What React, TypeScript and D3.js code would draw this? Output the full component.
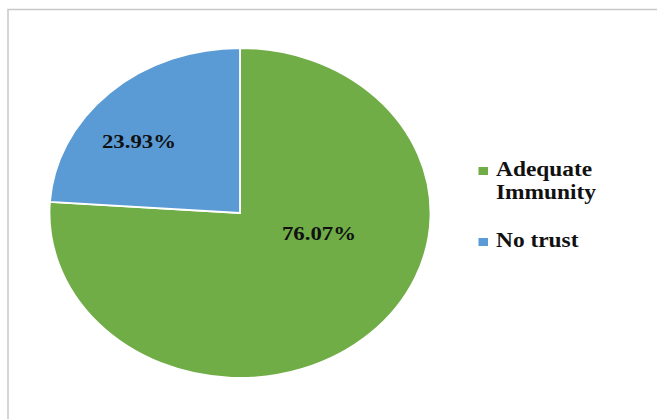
import React from "react";
import * as d3 from "d3";

const categories = ["Adequate Immunity", "No trust"];
const values = [76.07, 23.93];
const labels = ["76.07%", "23.93%"];
const legendLines = [["Adequate", "Immunity"], ["No trust"]];
const colors = ["#70AD47", "#5B9BD5"];

const FONT = "'Liberation Serif', 'Times New Roman', 'DejaVu Serif', serif";

export default function App() {
  const W = 657, H = 419;
  const cx = 240, cy = 213, rx = 190.5, ry = 165;
  const sx = rx / ry;
  const stretch = 1.17;
  const pie = d3.pie<number>().sort(null).value((d) => d);
  const arcs = pie(values);
  const arc = d3.arc<d3.PieArcDatum<number>>().innerRadius(0).outerRadius(ry);
  const labelPos = [
    [319, 240],
    [139, 148],
  ];
  const legendY = [175.5, 246.5];
  return (
    <svg width={W} height={H} style={{ position: "absolute", left: 0, top: 0 }}>
      <rect x={0} y={0} width={W} height={H} fill="#fff" />
      <rect x={8} y={9.5} width={W + 20} height={H + 20} fill="none" stroke="#c8c8c8" strokeWidth={1.5} />
      <g transform={`translate(${cx},${cy}) scale(${sx},1)`}>
        {arcs.map((a, i) => (
          <path key={i} d={arc(a) || ""} fill={colors[i]} stroke="#fff" strokeWidth={1.8} vectorEffect="non-scaling-stroke" />
        ))}
      </g>
      {labels.map((l, i) => (
        <text
          key={i}
          transform={`translate(${labelPos[i][0]},${labelPos[i][1]}) scale(${stretch},1)`}
          textAnchor="middle"
          style={{ fontFamily: FONT, fontWeight: 700, fontSize: "19.5px" }}
          fill="#111"
        >
          {l}
        </text>
      ))}
      {categories.map((c, i) => {
        const y0 = legendY[i];
        return (
          <g key={c}>
            <rect x={478.5} y={y0 - 8.5} width={9.5} height={8} fill={colors[i]} />
            {legendLines[i].map((t, j) => (
              <text
                key={j}
                transform={`translate(496,${y0 + j * 23}) scale(${stretch},1)`}
                style={{ fontFamily: FONT, fontWeight: 700, fontSize: "20px" }}
                fill="#111"
              >
                {t}
              </text>
            ))}
          </g>
        );
      })}
    </svg>
  );
}
